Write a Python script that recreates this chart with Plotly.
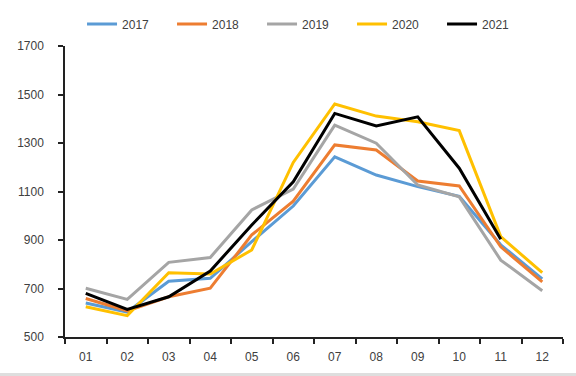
import plotly.graph_objects as go

months = ["01", "02", "03", "04", "05", "06", "07", "08", "09", "10", "11", "12"]
y2017 = [640, 603, 730, 742, 893, 1040, 1243, 1168, 1120, 1080, 880, 740]
y2018 = [659, 608, 666, 701, 921, 1060, 1292, 1271, 1143, 1123, 872, 727]
y2019 = [701, 655, 808, 828, 1024, 1110, 1374, 1299, 1127, 1078, 817, 691]
y2020 = [625, 588, 765, 760, 859, 1220, 1461, 1411, 1388, 1351, 914, 765]
y2021 = [680, 614, 666, 772, 962, 1140, 1422, 1370, 1408, 1196, 903]

series = [
    ("2017", y2017, "#5B9BD5"),
    ("2018", y2018, "#ED7D31"),
    ("2019", y2019, "#A5A5A5"),
    ("2020", y2020, "#FFC000"),
    ("2021", y2021, "#000000"),
]

fig = go.Figure()
for name, vals, color in series:
    fig.add_trace(go.Scatter(
        x=months[:len(vals)], y=vals, name=name, mode="lines",
        line=dict(color=color, width=3),
    ))

fig.add_shape(type="rect", xref="paper", yref="paper", x0=-0.2, x1=1.1,
              y0=-0.1237, y1=-0.14, fillcolor="#dedede", line_width=0, layer="below")

fig.update_layout(
    width=576, height=376,
    margin=dict(l=65, r=13, t=46, b=39, autoexpand=False),
    paper_bgcolor="white", plot_bgcolor="white",
    font=dict(family="Liberation Sans, Arial, sans-serif", size=12, color="#404040"),
    showlegend=True,
    legend=dict(orientation="h", x=0.486, xanchor="center", yref="container",
                y=0.936, yanchor="middle", entrywidth=45, entrywidthmode="pixels",
                font=dict(size=12, color="#404040"), tracegroupgap=0),
    xaxis=dict(type="category", categoryorder="array", categoryarray=months,
               range=[-0.5, 11.5], showgrid=False, showline=True, linecolor="#222222",
               linewidth=1.5, ticks="outside", tickson="boundaries", ticklen=5,
               tickcolor="#222222", tickwidth=1.5, zeroline=False, automargin=False,
               ticklabelstandoff=8),
    yaxis=dict(range=[500, 1700], dtick=200, tick0=500, showgrid=False, showline=True,
               linecolor="#222222", linewidth=1.5, ticks="outside", ticklen=5,
               tickcolor="#222222", tickwidth=1.5, zeroline=False, automargin=False,
               ticklabelstandoff=12),
)

fig.write_html("out.html", config={"displayModeBar": False},
               post_script="document.body.style.margin='0';")
